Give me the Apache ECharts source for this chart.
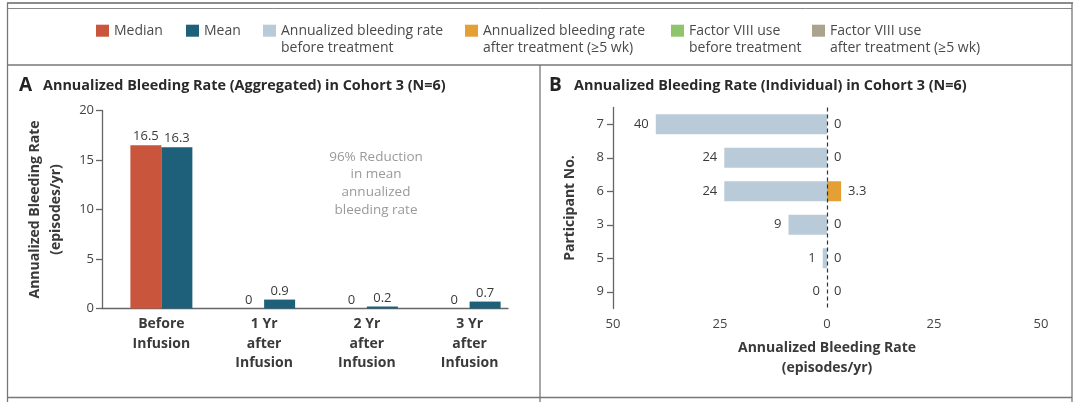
<!DOCTYPE html>
<html>
<head>
<meta charset="utf-8">
<script src="https://cdn.jsdelivr.net/npm/echarts@6/dist/echarts.min.js"></script>
<style>
html,body{margin:0;padding:0;background:#fff;}
#chart{width:1080px;height:402px;}
</style>
</head>
<body>
<div id="chart"></div>
<script>
// ---- Data ----
const categoriesA = ['Before\nInfusion', '1 Yr\nafter\nInfusion', '2 Yr\nafter\nInfusion', '3 Yr\nafter\nInfusion'];
const medianABR = [16.5, 0, 0, 0];
const meanABR = [16.3, 0.9, 0.2, 0.7];
const yAxisA = { min: 0, max: 20, interval: 5 };
const participants = ['7', '8', '6', '3', '5', '9'];
const abrBefore = [40, 24, 24, 9, 1, 0];
const abrAfter = [0, 0, 3.3, 0, 0, 0];
const xAxisB = { min: -50, max: 50, interval: 25 };
const legendNames = [
  'Median',
  'Mean',
  'Annualized bleeding rate\nbefore treatment',
  'Annualized bleeding rate\nafter treatment (≥5 wk)',
  'Factor VIII use\nbefore treatment',
  'Factor VIII use\nafter treatment (≥5 wk)'
];
const titleA = 'Annualized Bleeding Rate (Aggregated) in Cohort 3 (N=6)';
const titleB = 'Annualized Bleeding Rate (Individual) in Cohort 3 (N=6)';
const noteA = '96% Reduction\nin mean\nannualized\nbleeding rate';

// ---- Style ----
const FONT = '"Open Sans", "Noto Sans", sans-serif';
const COLORS = ['#c8553c', '#1e5f7a', '#b9cbd9', '#e5a035', '#8fc46c', '#aaa48e'];
const AXIS = { lineStyle: { color: '#666', width: 1.3 } };
const TXT = '#3a3a3a';

const chart = echarts.init(document.getElementById('chart'), null, { renderer: 'canvas' });

const legendLeft = [96, 186, 263, 465, 671, 812];
const legends = legendNames.map((n, i) => {
  const twoLine = n.indexOf('\n') >= 0;
  return {
    left: legendLeft[i],
    top: twoLine ? 5.2 : 22.2,
    padding: 0,
    icon: 'rect',
    itemWidth: 13,
    itemHeight: 12,
    selectedMode: false,
    data: [n],
    // blank first line keeps the first text line level with the swatch
    formatter: name => (name.indexOf('\n') >= 0 ? ' \n' + name : name),
    textStyle: { fontFamily: FONT, fontSize: 14, color: '#4a4a4a', lineHeight: 17 }
  };
});

const option = {
  backgroundColor: '#fff',
  animation: false,
  textStyle: { fontFamily: FONT },
  legend: legends,
  title: [
    {
      left: 19, top: 75, padding: 0,
      text: '{a|A}{t|' + titleA + '}',
      textStyle: { rich: {
        a: { fontFamily: FONT, fontSize: 19, fontWeight: 'bold', color: '#222', width: 24, lineHeight: 22 },
        t: { fontFamily: FONT, fontSize: 14.4, fontWeight: 'bold', color: '#2a2a2a', lineHeight: 22 }
      } }
    },
    {
      left: 549, top: 75, padding: 0,
      text: '{a|B}{t|' + titleB + '}',
      textStyle: { rich: {
        a: { fontFamily: FONT, fontSize: 19, fontWeight: 'bold', color: '#222', width: 25, lineHeight: 22 },
        t: { fontFamily: FONT, fontSize: 14.4, fontWeight: 'bold', color: '#2a2a2a', lineHeight: 22 }
      } }
    }
  ],
  graphic: [
    { type: 'line', shape: { x1: 7, y1: 3, x2: 1073, y2: 3 }, style: { stroke: '#8c8c8c', lineWidth: 2 } },
    { type: 'line', shape: { x1: 7, y1: 8.5, x2: 1072, y2: 8.5 }, style: { stroke: '#888', lineWidth: 1 } },
    { type: 'line', shape: { x1: 7.5, y1: 3, x2: 7.5, y2: 402 }, style: { stroke: '#777', lineWidth: 1.3 } },
    { type: 'line', shape: { x1: 1072, y1: 3, x2: 1072, y2: 402 }, style: { stroke: '#777', lineWidth: 1.3 } },
    { type: 'line', shape: { x1: 7, y1: 65, x2: 1072, y2: 65 }, style: { stroke: '#777', lineWidth: 1.3 } },
    { type: 'line', shape: { x1: 7, y1: 397.5, x2: 1072, y2: 397.5 }, style: { stroke: '#777', lineWidth: 1.3 } },
    { type: 'line', shape: { x1: 540, y1: 65, x2: 540, y2: 402 }, style: { stroke: '#777', lineWidth: 1.3 } },
    {
      type: 'text', x: 376, y: 148,
      style: { text: noteA, fill: '#9a9a9a', font: '13.5px ' + FONT, textAlign: 'center', lineHeight: 17.7 }
    }
  ],
  grid: [
    { left: 102, top: 110.5, width: 406, height: 198 },   // A axes frame
    { left: 110, top: 110.5, width: 411, height: 198 },   // A bars
    { left: 613, top: 107.5, width: 428, height: 201 }    // B
  ],
  xAxis: [
    { gridIndex: 0, type: 'value', min: 0, max: 1, axisLine: AXIS, axisTick: { show: false },
      axisLabel: { show: false }, splitLine: { show: false } },
    { gridIndex: 1, type: 'category', data: categoriesA, axisLine: { show: false }, axisTick: { show: false },
      axisLabel: { margin: 6, fontFamily: FONT, fontSize: 14, fontWeight: 'bold', color: TXT, lineHeight: 19.5 } },
    { gridIndex: 2, type: 'value', min: xAxisB.min, max: xAxisB.max, interval: xAxisB.interval,
      axisLine: AXIS, axisTick: { length: 5, lineStyle: { color: '#666', width: 1.3 } },
      axisLabel: { margin: 9, fontFamily: FONT, fontSize: 13, color: '#444', formatter: v => String(Math.abs(v)) },
      splitLine: { show: false },
      name: 'Annualized Bleeding Rate\n(episodes/yr)', nameLocation: 'middle', nameGap: 30,
      nameTextStyle: { fontFamily: FONT, fontSize: 14, fontWeight: 'bold', color: TXT, lineHeight: 20 } }
  ],
  yAxis: [
    { gridIndex: 0, type: 'value', min: yAxisA.min, max: yAxisA.max, interval: yAxisA.interval,
      axisLine: { show: true, lineStyle: AXIS.lineStyle }, axisTick: { show: true, length: 6, lineStyle: { color: '#666', width: 1.3 } },
      axisLabel: { margin: 8, fontFamily: FONT, fontSize: 13, color: '#444' }, splitLine: { show: false },
      name: 'Annualized Bleeding Rate\n(episodes/yr)', nameLocation: 'middle', nameGap: 35,
      nameTextStyle: { fontFamily: FONT, fontSize: 14, fontWeight: 'bold', color: TXT, lineHeight: 21 } },
    { gridIndex: 1, type: 'value', min: yAxisA.min, max: yAxisA.max, show: false },
    { gridIndex: 2, type: 'category', data: participants, inverse: true,
      axisLine: { show: true, onZero: false, lineStyle: AXIS.lineStyle },
      axisTick: { show: true, alignWithLabel: true, length: 6, lineStyle: { color: '#666', width: 1.3 } },
      axisLabel: { margin: 9, fontFamily: FONT, fontSize: 13, color: '#444' },
      name: 'Participant No.', nameLocation: 'middle', nameGap: 36,
      nameTextStyle: { fontFamily: FONT, fontSize: 14, fontWeight: 'bold', color: TXT } }
  ],
  series: [
    { name: legendNames[0], type: 'bar', xAxisIndex: 1, yAxisIndex: 1, data: medianABR,
      barWidth: 31, barGap: 0, itemStyle: { color: COLORS[0] },
      label: { show: true, position: 'top', distance: 2, fontFamily: FONT, fontSize: 13, color: TXT } },
    { name: legendNames[1], type: 'bar', xAxisIndex: 1, yAxisIndex: 1, data: meanABR,
      barWidth: 31, barGap: 0, itemStyle: { color: COLORS[1] },
      label: { show: true, position: 'top', distance: 2, fontFamily: FONT, fontSize: 13, color: TXT } },
    { name: legendNames[2], type: 'bar', xAxisIndex: 2, yAxisIndex: 2, data: abrBefore.map(v => -v),
      barWidth: 20, barGap: '-100%', itemStyle: { color: COLORS[2] },
      label: { show: true, position: 'left', distance: 7, fontFamily: FONT, fontSize: 13, color: TXT,
        formatter: p => String(Math.abs(p.value)) },
      markLine: { silent: true, symbol: 'none', label: { show: false },
        lineStyle: { type: [4, 3], color: '#333', width: 1.2 }, data: [{ xAxis: 0 }] } },
    { name: legendNames[3], type: 'bar', xAxisIndex: 2, yAxisIndex: 2, data: abrAfter,
      barWidth: 20, barGap: '-100%', itemStyle: { color: COLORS[3] },
      label: { show: true, position: 'right', distance: 7, fontFamily: FONT, fontSize: 13, color: TXT } },
    { name: legendNames[4], type: 'bar', xAxisIndex: 2, yAxisIndex: 2, data: [],
      barWidth: 20, barGap: '-100%', itemStyle: { color: COLORS[4] } },
    { name: legendNames[5], type: 'bar', xAxisIndex: 2, yAxisIndex: 2, data: [],
      barWidth: 20, barGap: '-100%', itemStyle: { color: COLORS[5] } }
  ]
};
chart.setOption(option);
</script>
</body>
</html>
